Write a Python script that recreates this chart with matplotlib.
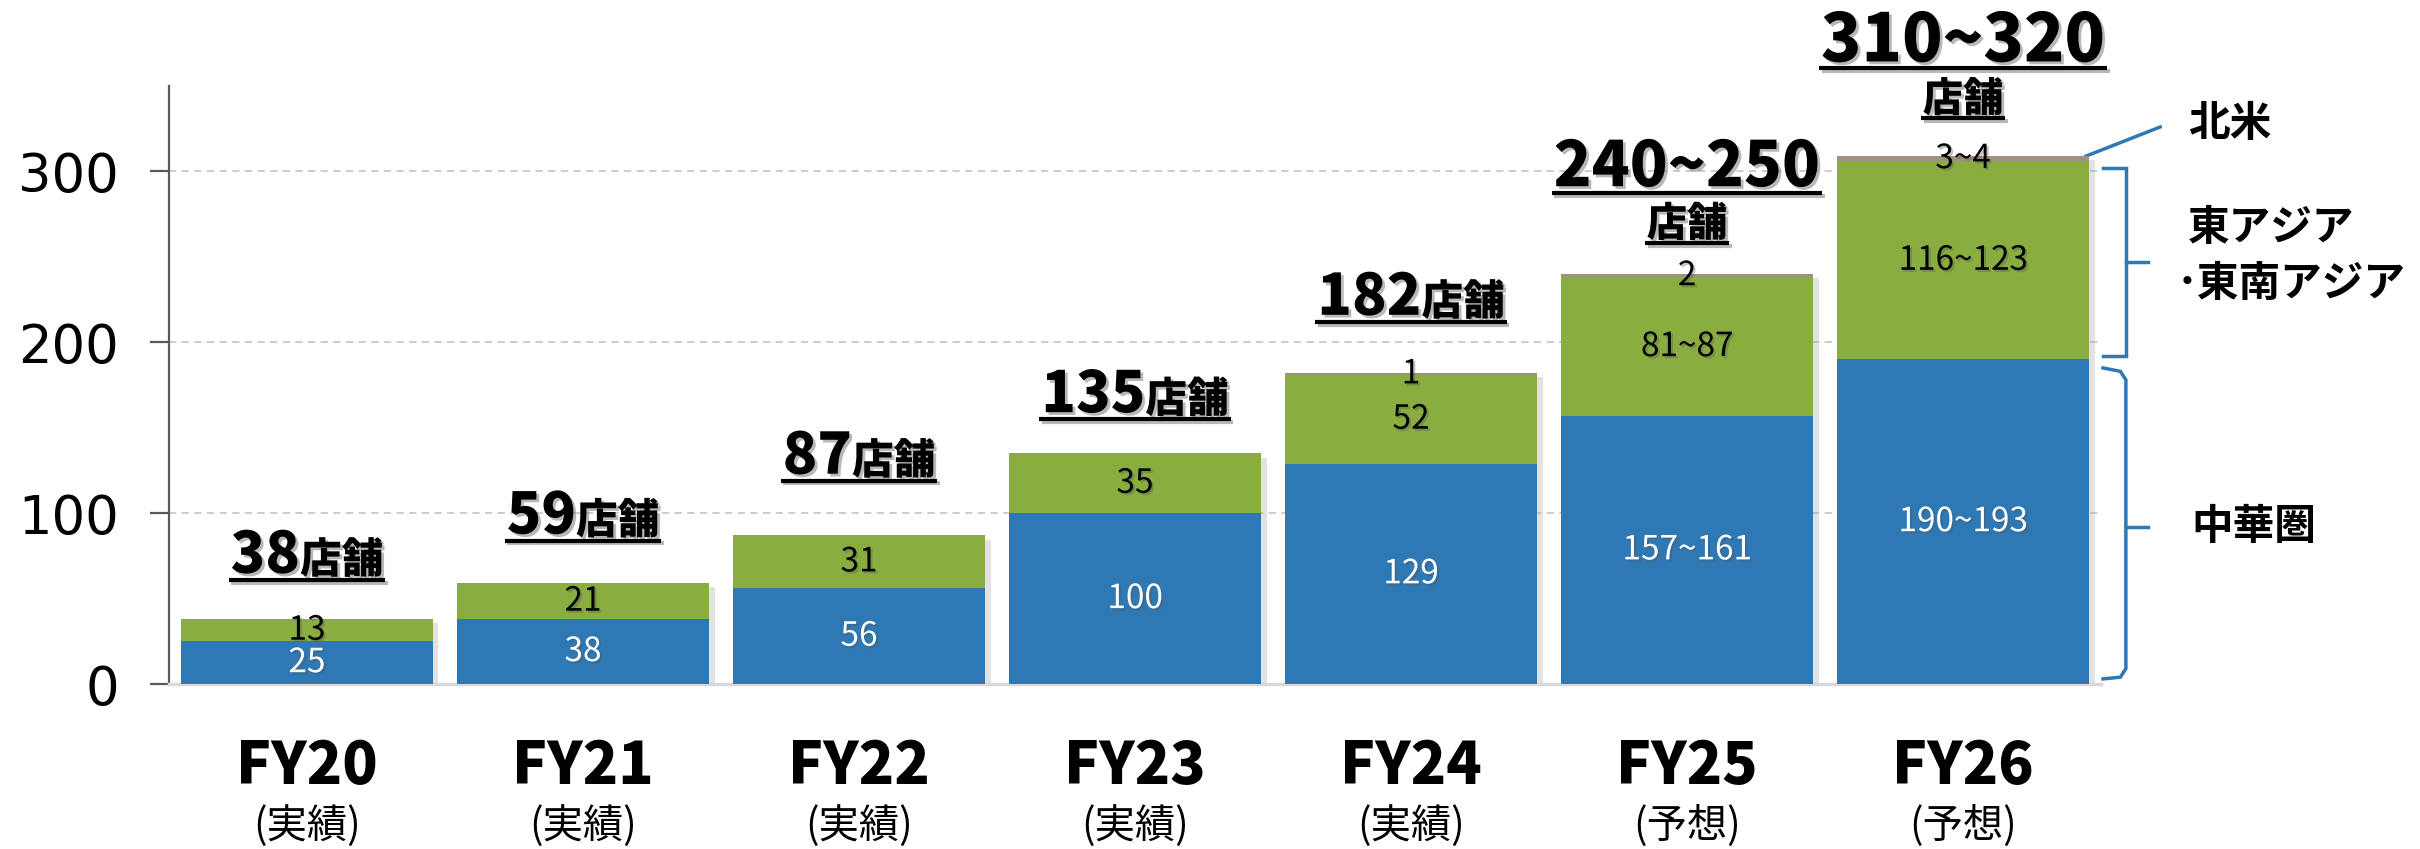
import numpy as np
import matplotlib.pyplot as plt
import matplotlib.patheffects as pe
from matplotlib import transforms

plt.rcParams['font.family'] = ['Noto Sans CJK JP', 'DejaVu Sans']

# data
years = ['FY20', 'FY21', 'FY22', 'FY23', 'FY24', 'FY25', 'FY26']
kinds = ['(実績)', '(実績)', '(実績)', '(実績)', '(実績)', '(予想)', '(予想)']
china = [25, 38, 56, 100, 129, 157, 190]
asia = [13, 21, 31, 35, 52, 81, 116]
namerica = [0, 0, 0, 0, 1, 2, 3]
china_txt = ['25', '38', '56', '100', '129', '157~161', '190~193']
asia_txt = ['13', '21', '31', '35', '52', '81~87', '116~123']
namerica_txt = ['', '', '', '', '1', '2', '3~4']
total_txt = ['38', '59', '87', '135', '182', '240~250', '310~320']

# layout
label_gap = [23, 25, 32, 20, 30, 18, 22]
c_blue = '#2E78B4'
c_green = '#89AD3E'
c_gray = '#A09181'
c_line = '#2E78B4'

fig = plt.figure(figsize=(24.2, 8.49), dpi=100)
ax = fig.add_axes([0.0698, 0.1943, 0.7984, 0.7044])

x = np.arange(len(years))
china = np.array(china)
asia = np.array(asia)
namerica = np.array(namerica)
totals = china + asia + namerica

bar_shadow = [pe.withSimplePatchShadow(offset=(4, -3), shadow_rgbFace='#a0a0a0', alpha=0.3)]
ax.bar(x, totals, 0.913, color='white', path_effects=bar_shadow, zorder=2)
ax.bar(x, china, 0.913, color=c_blue, zorder=3)
ax.bar(x, asia, 0.913, bottom=china, color=c_green, zorder=3)
ax.bar(x, namerica, 0.913, bottom=china + asia, color=c_gray, zorder=3)

ax.set_xlim(-0.5, 6.5)
ax.set_ylim(0, 350)
ax.set_yticks([0, 100, 200, 300])
ax.yaxis.grid(True, linestyle=(0, (4, 3)), color='#C8C8C8', lw=1.3)
ax.set_axisbelow(True)
for s in ['top', 'right']:
    ax.spines[s].set_visible(False)
ax.spines['left'].set_color('#595959')
ax.spines['left'].set_linewidth(1.6)
ax.spines['bottom'].set_color('#D9D9D9')
ax.spines['bottom'].set_linewidth(2.5)
ax.tick_params(axis='y', length=14, width=1.6, color='#595959', pad=22, labelsize=38)
ax.tick_params(axis='x', length=0, labelbottom=False)
for lab in ax.get_yticklabels():
    lab.set_fontfamily('DejaVu Sans')

txt_shadow = [pe.withSimplePatchShadow(offset=(2, -2), shadow_rgbFace='#7f7f7f', alpha=0.55)]
soft_shadow = [pe.withSimplePatchShadow(offset=(1.5, -1.5), shadow_rgbFace='#555555', alpha=0.35)]

# values inside the bars
for i in x:
    ax.text(i, china[i] / 2, china_txt[i], ha='center', va='center', color='white',
            fontsize=24, zorder=5, path_effects=soft_shadow)
    ax.text(i, china[i] + asia[i] / 2, asia_txt[i], ha='center', va='center', color='black',
            fontsize=24, zorder=5, path_effects=soft_shadow)
    if namerica_txt[i]:
        ax.text(i, china[i] + asia[i] + namerica[i] / 2, namerica_txt[i], ha='center', va='center',
                color='black', fontsize=24, zorder=5, path_effects=soft_shadow)

# category labels
xt = ax.get_xaxis_transform()
for i in x:
    ax.text(i, -0.139, years[i], transform=xt, ha='center', va='center', fontsize=42,
            fontweight='black')
    ax.text(i, -0.237, kinds[i], transform=xt, ha='center', va='center', fontsize=29)

renderer = fig.canvas.get_renderer()


def underlined(xc, y, parts, dy=0):
    # parts drawn side by side, centred on xc, underline at y (+dy pixels)
    texts = []
    for s, size in parts:
        t = ax.text(0, 0, s, fontsize=size, fontweight='black', ha='left', va='baseline',
                    path_effects=txt_shadow, zorder=6)
        texts.append(t)
    widths = [t.get_window_extent(renderer).width for t in texts]
    w = sum(widths)
    x0 = -w / 2
    for t, tw in zip(texts, widths):
        t.set_position((xc, y))
        t.set_transform(transforms.offset_copy(ax.transData, fig=fig, x=x0, y=dy + 7, units='dots'))
        x0 += tw
    px, py = ax.transData.transform((xc, y))
    inv = ax.transData.inverted()
    (xa, ya), (xb, yb) = inv.transform([(px - w / 2 - 2, py + dy), (px + w / 2 + 2, py + dy)])
    ax.plot([xa, xb], [ya, yb], color='black', lw=3, solid_capstyle='butt', clip_on=False, zorder=6,
            path_effects=[pe.SimpleLineShadow(offset=(2, -2), shadow_color='#7f7f7f', alpha=0.55),
                          pe.Normal()])


for i in x:
    y = totals[i] + label_gap[i]
    if '~' in total_txt[i]:
        size = 48 if i == len(x) - 1 else 45
        underlined(i, y, [('店舗', 29)])
        underlined(i, y, [(total_txt[i], size)], dy=50)
    else:
        underlined(i, y, [(total_txt[i], 41), ('店舗', 30)])

# region annotations on the right
kw = dict(color=c_line, lw=2.5, clip_on=False, solid_joinstyle='miter')
ax.plot([6.446, 6.714], [309, 326], **kw)
ax.plot([6.507, 6.59, 6.59, 6.507], [302, 302, 192, 192], **kw)
ax.plot([6.59, 6.67], [247, 247], **kw)
ax.plot([6.507, 6.57, 6.59, 6.59, 6.57, 6.507], [185, 183, 178, 9, 4, 3], **kw)
ax.plot([6.59, 6.67], [92, 92], **kw)

ax.text(6.815, 328, '北米', ha='left', va='center', fontsize=30, fontweight='bold', clip_on=False)
ax.text(6.815, 267, '東アジア', ha='left', va='center', fontsize=30, fontweight='bold', clip_on=False)
ax.text(6.775, 234, '･東南アジア', ha='left', va='center', fontsize=30, fontweight='bold', clip_on=False)
ax.text(6.826, 92, '中華圏', ha='left', va='center', fontsize=30, fontweight='bold', clip_on=False)

fig.savefig('out.png', dpi=100, facecolor='white')
